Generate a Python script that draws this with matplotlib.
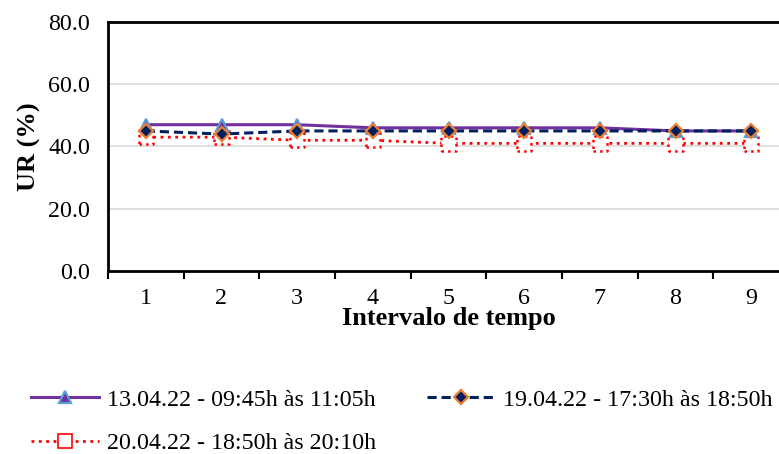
import matplotlib.pyplot as plt
from matplotlib.lines import Line2D

plt.rcParams['font.family'] = ['Liberation Serif', 'DejaVu Serif']

# data
intervalos = [1, 2, 3, 4, 5, 6, 7, 8, 9]
ur_13abr = [47, 47, 47, 46, 46, 46, 46, 45, 45]
ur_19abr = [45, 44, 45, 45, 45, 45, 45, 45, 45]
ur_20abr = [43, 43, 42, 42, 41, 41, 41, 41, 41]
rotulos = ['13.04.22 - 09:45h às 11:05h',
           '19.04.22 - 17:30h às 18:50h',
           '20.04.22 - 18:50h às 20:10h']

fig = plt.figure(figsize=(7.79, 4.54), dpi=100)
ax = fig.add_axes([108/779, 183/454, 681/779, 249/454])

estilo1 = dict(ls='-', color='#7030A0', lw=2.2, marker='^', ms=8.5,
               mfc='#7030A0', mec='#5B9BD5', mew=1.6)
estilo2 = dict(ls='--', color='#002060', lw=2.2, dashes=(3, 1.6), marker='D', ms=7.2,
               mfc='#002060', mec='#ED7D31', mew=1.6)

l1, = ax.plot(intervalos, ur_13abr, zorder=3, **estilo1)
l2, = ax.plot(intervalos, ur_19abr, zorder=4, **estilo2)
ax.plot(intervalos, ur_20abr, ':', color='#FF0000', lw=2.0, zorder=2)
ax.scatter(intervalos, ur_20abr, marker='s', s=105, facecolors='white',
           edgecolors='#FF0000', linewidths=1.8, linestyles=':', zorder=2.5)
l3 = Line2D([], [], ls=':', color='#FF0000', lw=2.0, marker='s', ms=9.5,
            mfc='white', mec='#FF0000', mew=1.2)

ax.set_xlim(0.5, 9.5)
ax.set_ylim(0, 80)
ax.set_yticks([0, 20, 40, 60, 80])
ax.set_yticklabels(['%.1f' % v for v in [0, 20, 40, 60, 80]])
ax.set_xticks(intervalos)
ax.set_xticks([i + 0.5 for i in range(0, 10)], minor=True)
ax.tick_params(axis='x', which='major', length=0, pad=12, labelsize=17.3)
ax.tick_params(axis='x', which='minor', length=6, width=1.5, direction='out')
ax.tick_params(axis='y', length=0, pad=13, labelsize=17.3)
ax.yaxis.grid(True, color='#D9D9D9', lw=1.2)
ax.set_axisbelow(True)

for side in ['top', 'bottom', 'left']:
    ax.spines[side].set_linewidth(2)
    ax.spines[side].set_color('black')
ax.spines['right'].set_visible(False)

ax.set_ylabel('UR (%)', fontsize=19, fontweight='bold', labelpad=5)
ax.set_xlabel('Intervalo de tempo', fontsize=19, fontweight='bold', labelpad=-1)

# ordem para preencher por linhas com ncol=2
fig.legend([l1, l3, l2], [rotulos[0], rotulos[2], rotulos[1]], ncol=2,
           frameon=False, fontsize=17.3,
           loc='upper left', bbox_to_anchor=(31/779, 1 - 389/454),
           borderaxespad=0, borderpad=0, handlelength=2.85, handletextpad=0.33,
           columnspacing=2.1, labelspacing=0.9)

fig.savefig('out.png', dpi=100)
